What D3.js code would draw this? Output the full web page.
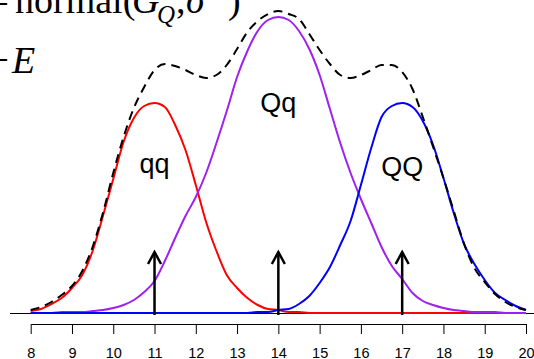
<!DOCTYPE html>
<html>
<head>
<meta charset="utf-8">
<script src="https://cdn.jsdelivr.net/npm/d3@7"></script>
<style>
  html, body { margin: 0; padding: 0; background: #fff; }
  svg { display: block; }
</style>
</head>
<body>
<svg id="chart" width="534" height="359"></svg>
<script>
// ---- data (density in arbitrary units) ----
const xGrid = [8,8.25,8.5,8.75,9,9.25,9.5,9.75,10,10.25,10.5,10.75,11,11.25,11.5,11.75,12,12.25,12.5,12.75,13,13.25,13.5,13.75,14,
               14.25,14.5,14.75,15,15.25,15.5,15.75,16,16.25,16.5,16.75,17,17.25,17.5,17.75,18,18.25,18.5,18.75,19,19.25,19.5,19.75,20];
const qqDensity = [2,4,9,15,25,38,62,97,134,171,195,207,210,206,188,163,128,91,62,38,25,15,8,4,3,
                   1,1,0,0,0,0,0,0,0,0,0,0,0,0,0,0,0,0,0,0,0,0,0,0];
const QqDensity = [0,0,0,1,1,1,2,3,5,8,13,21,32,52,75,97,116,140,170,202,236,262,282,293,296,
                   293,282,264,238,204,170,140,114,90,66,47,34,20,12,8,5,3,2,1,1,1,0,0,0];
const QQDensity = [0,0,0,0,0,0,0,0,0,0,0,0,0,0,0,0,0,0,0,0,0,0,1,1,3,
                   4,9,17,30,46,68,92,128,165,196,207,210,206,192,168,135,100,69,49,33,20,13,7,3];
const mixDensity = [3,6,11,18,27,42,66,100,140,176,205,226,243,249,247,243,238,235,238,248,264,281,292,299,302,
                    299,294,279,263,249,238,235,238,243,248,248,241,224,196,166,135,102,69,45,31,19,11,6,3];
const genotypes = ["qq", "Qq", "QQ"];
const genotypeMeans = [11, 14, 17];
const labelHeights = [140, 201, 137];
const arrowHeight = 61;
const tickValues = [8,9,10,11,12,13,14,15,16,17,18,19,20];

// ---- drawing ----
const svg = d3.select("#chart");
const x = d3.scaleLinear().domain([8, 20]).range([30.7, 526]);
const y = d3.scaleLinear().domain([0, 300]).range([313, 13]);

// baseline
svg.append("line")
  .attr("x1", 10).attr("x2", 534)
  .attr("y1", y(0) + 0.5).attr("y2", y(0) + 0.5)
  .attr("stroke", "#000").attr("stroke-width", 1);

const line = d3.line()
  .x((d, i) => x(xGrid[i]))
  .y(d => y(d))
  .curve(d3.curveMonotoneX);

const series = [
  {vals: qqDensity, color: "#ff0000"},
  {vals: QqDensity, color: "#a020f0"},
  {vals: QQDensity, color: "#0000ff"}
];
svg.selectAll("path.comp").data(series).join("path")
  .attr("class", "comp")
  .attr("d", d => line(d.vals))
  .attr("fill", "none")
  .attr("stroke", d => d.color)
  .attr("stroke-width", 2);

svg.append("path")
  .attr("d", line(mixDensity))
  .attr("fill", "none")
  .attr("stroke", "#000")
  .attr("stroke-width", 2)
  .attr("stroke-dasharray", "9,6");

// arrows
const arrows = svg.append("g");
genotypeMeans.forEach(m => {
  const cx = x(m), top = y(arrowHeight);
  arrows.append("line")
    .attr("x1", cx).attr("x2", cx)
    .attr("y1", y(0) + 2).attr("y2", top)
    .attr("stroke", "#000").attr("stroke-width", 2.5);
  arrows.append("polyline")
    .attr("points", `${cx - 6.5},${top + 12} ${cx},${top} ${cx + 6.5},${top + 12}`)
    .attr("fill", "none").attr("stroke", "#000").attr("stroke-width", 2.5)
    .attr("stroke-linejoin", "miter");
});

// genotype labels
svg.selectAll("text.geno").data(genotypes).join("text")
  .attr("class", "geno")
  .attr("x", (d, i) => x(genotypeMeans[i]))
  .attr("y", (d, i) => y(labelHeights[i]))
  .attr("text-anchor", "middle")
  .attr("font-family", "Liberation Sans, Arial, sans-serif")
  .attr("font-size", 27)
  .attr("fill", "#000")
  .text(d => d);

// bottom axis
const axis = d3.axisBottom(x)
  .tickValues(tickValues)
  .tickFormat(d3.format("d"))
  .tickSize(10)
  .tickSizeOuter(0)
  .tickPadding(14);
const gAxis = svg.append("g")
  .attr("transform", "translate(0,324)")
  .call(axis);
gAxis.selectAll("path, line").attr("stroke", "#000").attr("stroke-width", 1);
gAxis.selectAll("text")
  .attr("font-family", "Liberation Sans, Arial, sans-serif")
  .attr("font-size", 14.5)
  .attr("fill", "#000");

// formula text (top-left, partly cut off)
const serif = "Liberation Serif, Times New Roman, serif";
svg.append("text").attr("x", 9).attr("y", 13).attr("text-anchor", "end")
  .attr("font-family", serif).attr("font-size", 38).text("=");
const f1 = svg.append("text").attr("y", 13)
  .attr("font-family", serif).attr("font-size", 38).attr("fill", "#000");
f1.append("tspan").attr("x", 15).text("normal(");
f1.append("tspan").attr("x", 132).attr("font-style", "italic").text("G");
f1.append("tspan").attr("x", 157).attr("y", 23).attr("font-style", "italic").attr("font-size", 25).text("Q");
f1.append("tspan").attr("x", 176).attr("y", 13).text(",");
f1.append("tspan").attr("x", 186).attr("font-style", "italic").text("σ");
f1.append("tspan").attr("x", 208).attr("y", -3).attr("font-size", 25).text("2");
f1.append("tspan").attr("x", 228).attr("y", 13).text(")");

svg.append("text").attr("x", 9).attr("y", 73).attr("text-anchor", "end")
  .attr("font-family", serif).attr("font-size", 38).text("+");
svg.append("text").attr("x", 12).attr("y", 73)
  .attr("font-family", serif).attr("font-size", 38).attr("font-style", "italic").text("E");
</script>
</body>
</html>
